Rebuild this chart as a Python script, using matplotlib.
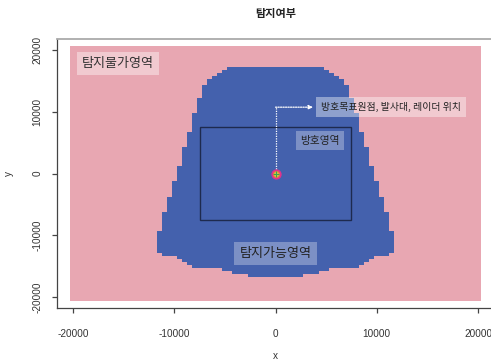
import numpy as np
import matplotlib
matplotlib.use("Agg")
import matplotlib.pyplot as plt
from matplotlib.colors import ListedColormap
from matplotlib.patches import Rectangle

# ---- data ----
title = "탐지여부"
# detectable (blue) region: each segment starts at row_top and runs down to the next row_top
row_top = [17250, 16750, 16250, 15750, 15250, 14250, 12250, 9750, 6750, 4250, 1250,
           -1250, -3750, -6250, -9250, -12750, -13250, -13750, -14250, -14750,
           -15250, -15750, -16250]
half_width = [4750, 5250, 5750, 6250, 6750, 7250, 7750, 8250, 8750, 9250, 9750,
              10250, 10750, 11250, 11750, 11250, 9750, 9250, 8750, 8250,
              5250, 4250, 2750]
region_bottom = -16750
cell = 500
grid_x_extent = 20250
grid_y_extent = 20500
protect_box = [-7500, 7500, -7500, 7500]   # xmin, xmax, ymin, ymax
origin = [0, 0]
arrow_y = 10700
arrow_end_x = 3700
labels = {
    "impossible": ("탐지불가영역", -15575, 17790),
    "possible": ("탐지가능영역", 0, -12950),
    "protect": ("방호영역", 4350, 5320),
    "point": ("방호목표원점, 발사대, 레이더 위치", 4500, 10700),
}
xticks = [-20000, -10000, 0, 10000, 20000]
yticks = [-20000, -10000, 0, 10000, 20000]

pink = "#E8A7B2"
blue = "#4461AD"

# ---- build raster mask from profile ----
x_edges = np.arange(-grid_x_extent, grid_x_extent + 1, cell)
y_edges = np.concatenate([[-grid_y_extent],
                          np.arange(-grid_x_extent, grid_x_extent + 1, cell),
                          [grid_y_extent]])
xc = (x_edges[:-1] + x_edges[1:]) / 2
yc = (y_edges[:-1] + y_edges[1:]) / 2
tops = np.array(row_top)
bottoms = np.append(tops[1:], region_bottom)
mask = np.zeros((len(yc), len(xc)))
for t, b, hw in zip(tops, bottoms, half_width):
    rows = (yc < t) & (yc > b)
    cols = np.abs(xc) < hw
    mask[np.ix_(rows, cols)] = 1

fig = plt.figure(figsize=(4.91, 3.6), dpi=100)
ax = fig.add_axes([57/491, 52/360, 437/491, 269/360])
ax.pcolormesh(x_edges, y_edges, mask, cmap=ListedColormap([pink, blue]),
              vmin=0, vmax=1, shading="flat", antialiased=False, linewidth=0)
ax.set_xlim(-21580, 21580)
ax.set_ylim(-21700, 21700)

ax.add_patch(Rectangle((protect_box[0], protect_box[2]),
                       protect_box[1] - protect_box[0], protect_box[3] - protect_box[2],
                       fill=False, edgecolor="#1E2A4E", lw=1.0, zorder=3))

# dotted leader
ax.plot([origin[0], origin[0]], [origin[1], arrow_y], color="white", lw=0.9,
        ls=(0, (1, 1)), zorder=4)
ax.annotate("", xy=(arrow_end_x, arrow_y), xytext=(origin[0], arrow_y),
            arrowprops=dict(arrowstyle="-|>", color="white", lw=0.9,
                            ls=(0, (1, 1)), mutation_scale=6,
                            shrinkA=0, shrinkB=0), zorder=4)

# marker at origin
ax.scatter([origin[0]], [origin[1]], s=55, color="#E0338C", zorder=5, linewidths=0)
ax.scatter([origin[0]], [origin[1]], s=25, color="#F08A3A", zorder=6, linewidths=0)
ax.scatter([origin[0]], [origin[1]], s=10, color="#E9E34A", zorder=7, linewidths=0)
ax.scatter([origin[0]], [origin[1]], s=22, marker="+", color="#3FA34D", zorder=8, linewidths=0.9)

kfont = ["Noto Sans CJK KR", "DejaVu Sans"]
t, x, y = labels["impossible"]
ax.text(x, y, t, fontsize=9.4, family=kfont, color="#333333", ha="center", va="center",
        bbox=dict(boxstyle="square,pad=0.4", fc="white", ec="none", alpha=0.4), zorder=6)
t, x, y = labels["possible"]
ax.text(x, y, t, fontsize=9.4, family=kfont, color="#222222", ha="center", va="center",
        bbox=dict(boxstyle="square,pad=0.4", fc="white", ec="none", alpha=0.3), zorder=6)
t, x, y = labels["protect"]
ax.text(x, y, t, fontsize=7.7, family=kfont, color="#222222", ha="center", va="center",
        bbox=dict(boxstyle="square,pad=0.4", fc="white", ec="none", alpha=0.3), zorder=6)
t, x, y = labels["point"]
ax.text(x, y, t, fontsize=7.1, family=kfont, color="#222222", ha="left", va="center",
        bbox=dict(boxstyle="square,pad=0.5", fc="white", ec="none", alpha=0.4), zorder=6)

# axes styling
for s in ["left", "bottom"]:
    ax.spines[s].set_color("#444444")
    ax.spines[s].set_linewidth(0.9)
ax.spines["top"].set_color("#AAAAAA")
ax.spines["top"].set_linewidth(1.3)
ax.spines["right"].set_visible(False)
ax.set_xticks(xticks)
ax.set_yticks(yticks)
ax.set_xticklabels([str(v) for v in xticks], family="Liberation Sans", fontsize=7.2, color="#333333")
ax.set_yticklabels([str(v) for v in yticks], family="Liberation Sans", fontsize=7.2, color="#333333",
                   rotation=90, va="center")
ax.tick_params(direction="out", length=3.6, width=0.9, color="#444444")
ax.tick_params(axis="x", pad=11.5)
ax.tick_params(axis="y", pad=7)
ax.set_xlabel("x", family="Liberation Sans", fontsize=7.2, color="#333333", labelpad=9)
ax.set_ylabel("y", family="Liberation Sans", fontsize=7.2, color="#333333", labelpad=13)

fig.text((57 + 494) / 2 / 491, 1 - 13.5 / 360, title, family=kfont, fontsize=8,
         fontweight="bold", ha="center", va="center", color="#222222")

fig.savefig("out.png", dpi=100)
